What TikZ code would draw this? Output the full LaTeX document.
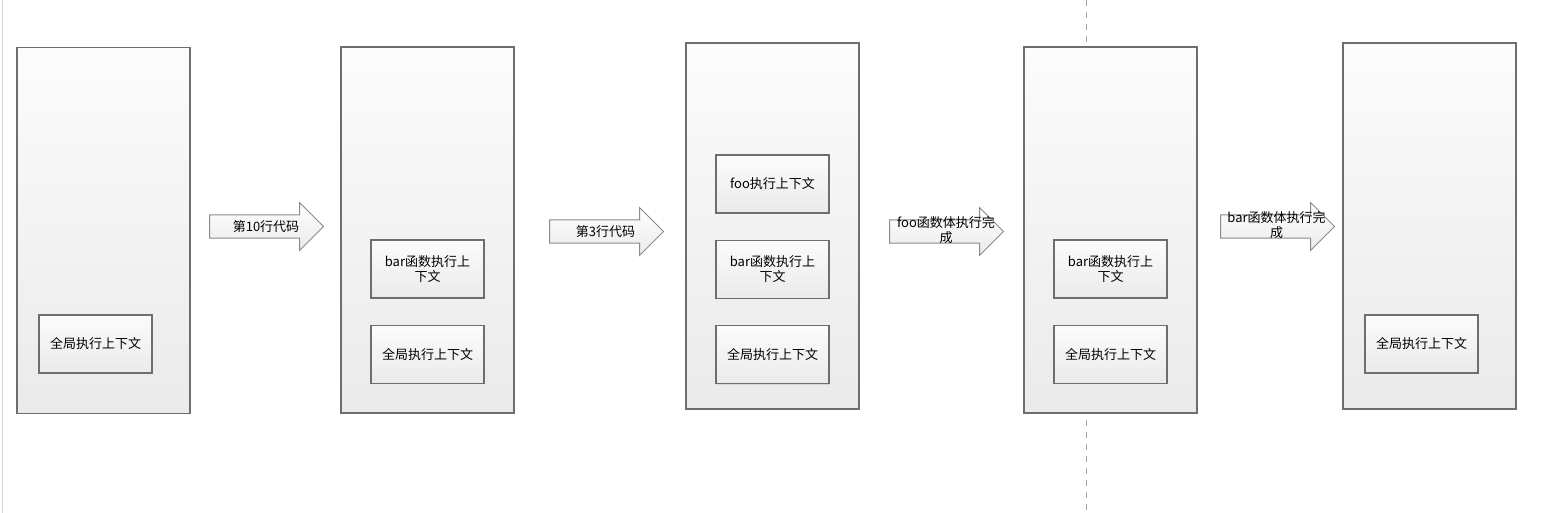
\documentclass[tikz,border=0pt]{standalone}
\usepackage{fontspec}
\setmainfont{Noto Sans CJK SC}
\usetikzlibrary{positioning,shapes.arrows,shadows}
\definecolor{Edge}{RGB}{110,110,110}
\definecolor{Top}{RGB}{252,252,252}
\definecolor{Bottom}{RGB}{234,234,234}

\begin{document}
\begin{tikzpicture}[x=0.5pt,y=-0.5pt,node distance=13pt,
 col/.style={draw=Edge,line width=.6pt,top color=Top,bottom color=Bottom,minimum width=86.5pt,minimum height=183pt,inner sep=0pt},
 ctx/.style={draw=Edge,line width=.6pt,top color=Top,bottom color=Bottom,minimum width=56.5pt,minimum height=29pt,align=center,inner sep=1pt,
  font=\fontsize{6.5}{7.5}\selectfont,drop shadow={opacity=.2,shadow xshift=.6pt,shadow yshift=-.6pt}},
 go/.style={single arrow,draw=Edge!80,line width=.5pt,top color=white,bottom color=Bottom,inner xsep=0pt,inner ysep=5.5pt,
  single arrow head extend=6.25pt,minimum height=57pt,single arrow tip angle=90,anchor=tail},
 lab/.style={font=\fontsize{6.5}{7.5}\selectfont,align=center,inner sep=0pt}]
\useasboundingbox[fill=white] (0,0) rectangle (1561,513);
\draw[gray!30] (2,0)--(2,513);
\draw[gray!70,dashed] (1086,0)--(1086,513);
% five stack states
\node[col] (s1) at (103.5,230.5) {};
\node[col] (s2) at (427.5,230) {};
\node[col] (s3) at (772.5,226) {};
\node[col] (s4) at (1110.5,230) {};
\node[col] (s5) at (1429.5,226) {};
% frames
\node[ctx] (g1) at (95.5,344) {全局执行上下文};
\node[ctx] (b2) at (427.5,269) {bar函数执行上\\下文};
\node[ctx,below=of b2] (g2) {全局执行上下文};
\node[ctx] (f3) at (772.5,184) {foo执行上下文};
\node[ctx,below=of f3] (b3) {bar函数执行上\\下文};
\node[ctx,below=of b3] (g3) {全局执行上下文};
\node[ctx] (b4) at (1110.5,269) {bar函数执行上\\下文};
\node[ctx,below=of b4] (g4) {全局执行上下文};
\node[ctx] (g5) at (1421.5,344) {全局执行上下文};
% steps
\node[go] (a1) at (209,226.5) {};
\node[go] (a2) at (549,231.5) {};
\node[go] (a3) at (889,231.5) {};
\node[go] (a4) at (1220,226.5) {};
\node[lab] (t1) at (266,226.5) {第10行代码};
\node[lab] (t2) at (605.5,231.5) {第3行代码};
\node[lab] (t3) at (946,230) {foo函数体执行完\\成};
\node[lab] (t4) at (1276.5,225) {bar函数体执行完\\成};
\end{tikzpicture}
\end{document}
